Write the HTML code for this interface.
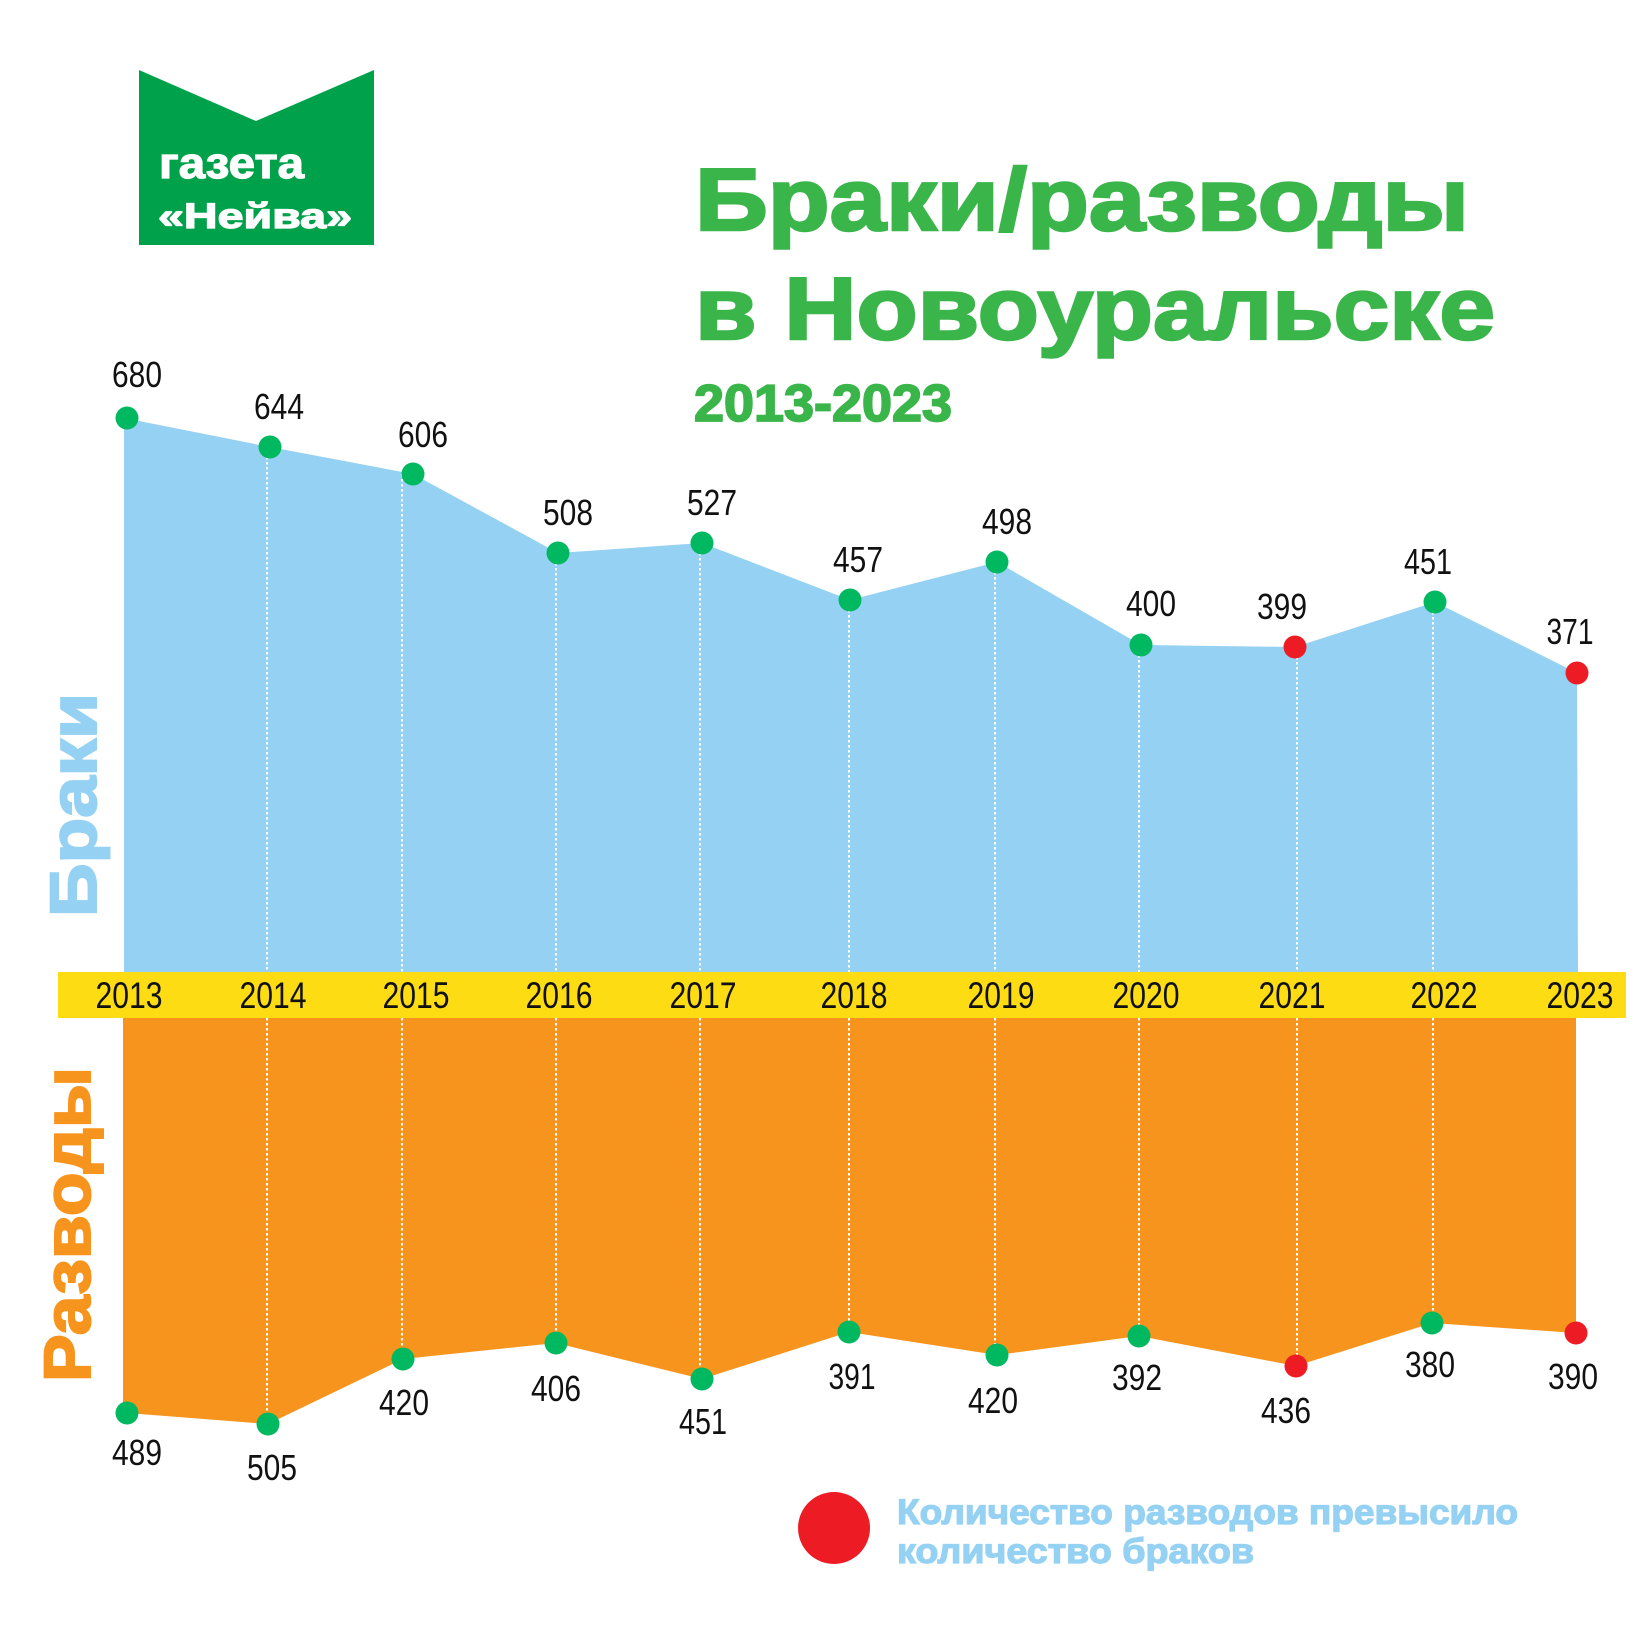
<!DOCTYPE html>
<html>
<head>
<meta charset="utf-8">
<style>
  html,body{margin:0;padding:0;background:#fff;}
  svg{display:block;}
  .num{font-family:"Liberation Sans",sans-serif;font-size:36px;fill:#111;}
  .yr{font-family:"Liberation Sans",sans-serif;font-size:37px;fill:#111;}
  .b{font-family:"Liberation Sans",sans-serif;font-weight:bold;}
</style>
</head>
<body>
<svg width="1646" height="1647" viewBox="0 0 1646 1647" xmlns="http://www.w3.org/2000/svg">
  <rect x="0" y="0" width="1646" height="1647" fill="#ffffff"/>

  <!-- Logo -->
  <polygon points="139,70 256,121 374,70 374,245 139,245" fill="#00A14B"/>
  <text class="b" x="159" y="178" font-size="44" fill="#fff" stroke="#fff" stroke-width="1.2" textLength="145" lengthAdjust="spacingAndGlyphs">газета</text>
  <text class="b" x="158" y="228" font-size="35" fill="#fff" stroke="#fff" stroke-width="1.2" textLength="194" lengthAdjust="spacingAndGlyphs">«Нейва»</text>

  <!-- Title -->
  <text class="b" x="695" y="230" font-size="88" fill="#3AB54A" stroke="#3AB54A" stroke-width="2.5" textLength="774" lengthAdjust="spacingAndGlyphs">Браки/разводы</text>
  <text class="b" x="695" y="339" font-size="88" fill="#3AB54A" stroke="#3AB54A" stroke-width="2.5" textLength="800" lengthAdjust="spacingAndGlyphs">в Новоуральске</text>
  <text class="b" x="694" y="421" font-size="52" fill="#3AB54A" stroke="#3AB54A" stroke-width="1.8" textLength="258" lengthAdjust="spacingAndGlyphs">2013-2023</text>

  <!-- Side labels -->
  <text class="b" transform="translate(96,917) rotate(-90)" x="0" y="0" font-size="66" fill="#95D1F2" stroke="#95D1F2" stroke-width="2" textLength="224" lengthAdjust="spacingAndGlyphs">Браки</text>
  <text class="b" transform="translate(90,1382) rotate(-90)" x="0" y="0" font-size="66" fill="#F7941D" stroke="#F7941D" stroke-width="2" textLength="315" lengthAdjust="spacingAndGlyphs">Разводы</text>

  <!-- Upper area (marriages) -->
  <polygon fill="#95D1F2" points="124,972 124,418 270,447 413,474 558,553 702,543 850,600 997,562 1141,645 1295,647 1435,602 1577,673 1578,972"/>
  <!-- Lower area (divorces) -->
  <polygon fill="#F7941D" points="123,1018 123,1413 127,1413 268,1424 403,1359 556,1343 702,1379 849,1332 997,1355 1139,1336 1296,1366 1432,1323 1576,1333 1576,1018"/>

  <!-- Dotted lines -->
  <g stroke="#ffffff" stroke-width="2" stroke-dasharray="2.5 2.5" fill="none">
    <line x1="267" y1="447" x2="267" y2="972"/>
    <line x1="402" y1="474" x2="402" y2="972"/>
    <line x1="556" y1="553" x2="556" y2="972"/>
    <line x1="700" y1="543" x2="700" y2="972"/>
    <line x1="849" y1="600" x2="849" y2="972"/>
    <line x1="995" y1="562" x2="995" y2="972"/>
    <line x1="1139" y1="645" x2="1139" y2="972"/>
    <line x1="1297" y1="647" x2="1297" y2="972"/>
    <line x1="1433" y1="602" x2="1433" y2="972"/>

    <line x1="267" y1="1018" x2="267" y2="1424"/>
    <line x1="402" y1="1018" x2="402" y2="1359"/>
    <line x1="556" y1="1018" x2="556" y2="1343"/>
    <line x1="700" y1="1018" x2="700" y2="1379"/>
    <line x1="849" y1="1018" x2="849" y2="1332"/>
    <line x1="995" y1="1018" x2="995" y2="1355"/>
    <line x1="1139" y1="1018" x2="1139" y2="1336"/>
    <line x1="1297" y1="1018" x2="1297" y2="1366"/>
    <line x1="1433" y1="1018" x2="1433" y2="1323"/>
  </g>

  <!-- Yellow band -->
  <rect x="58" y="972" width="1568" height="46" fill="#FDDC14"/>
  <g class="yr" text-anchor="middle">
    <text x="129" y="1008" textLength="67" lengthAdjust="spacingAndGlyphs">2013</text>
    <text x="273" y="1008" textLength="67" lengthAdjust="spacingAndGlyphs">2014</text>
    <text x="416" y="1008" textLength="67" lengthAdjust="spacingAndGlyphs">2015</text>
    <text x="559" y="1008" textLength="67" lengthAdjust="spacingAndGlyphs">2016</text>
    <text x="703" y="1008" textLength="67" lengthAdjust="spacingAndGlyphs">2017</text>
    <text x="854" y="1008" textLength="67" lengthAdjust="spacingAndGlyphs">2018</text>
    <text x="1001" y="1008" textLength="67" lengthAdjust="spacingAndGlyphs">2019</text>
    <text x="1146" y="1008" textLength="67" lengthAdjust="spacingAndGlyphs">2020</text>
    <text x="1292" y="1008" textLength="67" lengthAdjust="spacingAndGlyphs">2021</text>
    <text x="1444" y="1008" textLength="67" lengthAdjust="spacingAndGlyphs">2022</text>
    <text x="1580" y="1008" textLength="67" lengthAdjust="spacingAndGlyphs">2023</text>
  </g>

  <!-- Upper dots -->
  <g>
    <circle cx="127" cy="418" r="11.5" fill="#00B860"/>
    <circle cx="270" cy="447" r="11.5" fill="#00B860"/>
    <circle cx="413" cy="474" r="11.5" fill="#00B860"/>
    <circle cx="558" cy="553" r="11.5" fill="#00B860"/>
    <circle cx="702" cy="543" r="11.5" fill="#00B860"/>
    <circle cx="850" cy="600" r="11.5" fill="#00B860"/>
    <circle cx="997" cy="562" r="11.5" fill="#00B860"/>
    <circle cx="1141" cy="645" r="11.5" fill="#00B860"/>
    <circle cx="1295" cy="647" r="11.5" fill="#ED1C24"/>
    <circle cx="1435" cy="602" r="11.5" fill="#00B860"/>
    <circle cx="1577" cy="673" r="11.5" fill="#ED1C24"/>
  </g>
  <!-- Lower dots -->
  <g>
    <circle cx="127" cy="1413" r="11.5" fill="#00B860"/>
    <circle cx="268" cy="1424" r="11.5" fill="#00B860"/>
    <circle cx="403" cy="1359" r="11.5" fill="#00B860"/>
    <circle cx="556" cy="1343" r="11.5" fill="#00B860"/>
    <circle cx="702" cy="1379" r="11.5" fill="#00B860"/>
    <circle cx="849" cy="1332" r="11.5" fill="#00B860"/>
    <circle cx="997" cy="1355" r="11.5" fill="#00B860"/>
    <circle cx="1139" cy="1336" r="11.5" fill="#00B860"/>
    <circle cx="1296" cy="1366" r="11.5" fill="#ED1C24"/>
    <circle cx="1432" cy="1323" r="11.5" fill="#00B860"/>
    <circle cx="1576" cy="1333" r="11.5" fill="#ED1C24"/>
  </g>

  <!-- Upper values -->
  <g class="num" text-anchor="middle">
    <text x="137" y="387" textLength="50" lengthAdjust="spacingAndGlyphs">680</text>
    <text x="279" y="419" textLength="50" lengthAdjust="spacingAndGlyphs">644</text>
    <text x="423" y="447" textLength="50" lengthAdjust="spacingAndGlyphs">606</text>
    <text x="568" y="525" textLength="50" lengthAdjust="spacingAndGlyphs">508</text>
    <text x="712" y="515" textLength="50" lengthAdjust="spacingAndGlyphs">527</text>
    <text x="858" y="572" textLength="50" lengthAdjust="spacingAndGlyphs">457</text>
    <text x="1007" y="534" textLength="50" lengthAdjust="spacingAndGlyphs">498</text>
    <text x="1151" y="616" textLength="50" lengthAdjust="spacingAndGlyphs">400</text>
    <text x="1282" y="619" textLength="50" lengthAdjust="spacingAndGlyphs">399</text>
    <text x="1428" y="574" textLength="48" lengthAdjust="spacingAndGlyphs">451</text>
    <text x="1570" y="644" textLength="47" lengthAdjust="spacingAndGlyphs">371</text>
  </g>
  <!-- Lower values -->
  <g class="num" text-anchor="middle">
    <text x="137" y="1465" textLength="50" lengthAdjust="spacingAndGlyphs">489</text>
    <text x="272" y="1480" textLength="50" lengthAdjust="spacingAndGlyphs">505</text>
    <text x="404" y="1415" textLength="50" lengthAdjust="spacingAndGlyphs">420</text>
    <text x="556" y="1401" textLength="50" lengthAdjust="spacingAndGlyphs">406</text>
    <text x="703" y="1434" textLength="48" lengthAdjust="spacingAndGlyphs">451</text>
    <text x="852" y="1389" textLength="47" lengthAdjust="spacingAndGlyphs">391</text>
    <text x="993" y="1413" textLength="50" lengthAdjust="spacingAndGlyphs">420</text>
    <text x="1137" y="1390" textLength="50" lengthAdjust="spacingAndGlyphs">392</text>
    <text x="1286" y="1423" textLength="50" lengthAdjust="spacingAndGlyphs">436</text>
    <text x="1430" y="1377" textLength="50" lengthAdjust="spacingAndGlyphs">380</text>
    <text x="1573" y="1389" textLength="50" lengthAdjust="spacingAndGlyphs">390</text>
  </g>

  <!-- Legend -->
  <circle cx="834" cy="1528" r="36" fill="#ED1C24"/>
  <text class="b" x="897" y="1524" font-size="35" fill="#95D1F2" stroke="#95D1F2" stroke-width="1.2" textLength="621" lengthAdjust="spacingAndGlyphs">Количество разводов превысило</text>
  <text class="b" x="897" y="1563" font-size="35" fill="#95D1F2" stroke="#95D1F2" stroke-width="1.2" textLength="357" lengthAdjust="spacingAndGlyphs">количество браков</text>
</svg>
</body>
</html>
